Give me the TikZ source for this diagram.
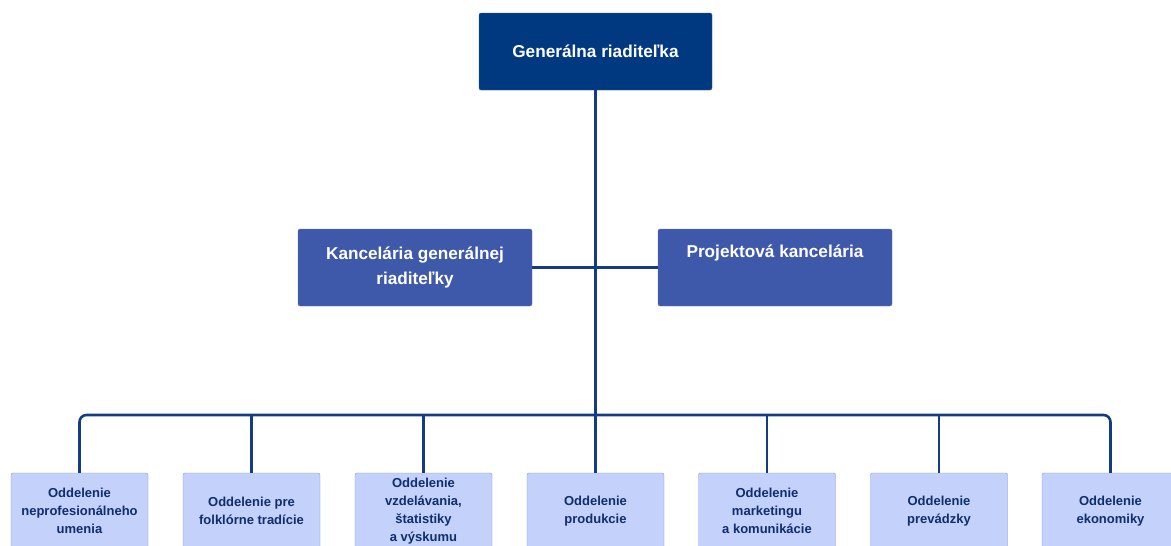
\documentclass[tikz,border=0pt]{standalone}
\usepackage{fontspec}
\setmainfont{Liberation Sans}
\definecolor{headblue}{HTML}{003980}
\definecolor{officeblue}{HTML}{3F59AA}
\definecolor{deptfill}{HTML}{C3D1FB}
\definecolor{deptline}{HTML}{7F97D4}
\definecolor{depttext}{HTML}{0E2E6E}
\definecolor{linkblue}{HTML}{143C82}

\begin{document}
\begin{tikzpicture}[x=1pt,y=-1pt,
        nodes={draw, rectangle, rounded corners=2pt, align=center},
        head/.style={fill=headblue, draw=headblue!80!white, text=white,
            minimum width=233pt, minimum height=77pt,
            font=\bfseries\fontsize{17.2}{20}\selectfont},
        office/.style={fill=officeblue, draw=officeblue!80!white, text=white,
            minimum width=234pt, minimum height=77pt,
            font=\bfseries\fontsize{17.2}{25}\selectfont},
        dept/.style={fill=deptfill, draw=deptline, text=depttext,
            minimum width=137pt, minimum height=76pt, inner sep=1pt,
            font=\bfseries\fontsize{13}{18}\selectfont},
        link/.style={draw=linkblue, line width=2.6pt}]
            \clip (0,0) rectangle (1171,546);
            \useasboundingbox (0,0) rectangle (1171,546);

            \node[head] (gr) at (595.5,51.5) {Generálna riaditeľka};

            \node[office] (kgr) at (415,267.5) {Kancelária generálnej\\riaditeľky};
            \node[office] (pk) at (775,267.5) {Projektová kancelária\\ \strut};

            \node[dept] (d1) at (79.5,511) {Oddelenie\\neprofesionálneho\\umenia};
            \node[dept] (d2) at (251.5,511) {Oddelenie pre\\folklórne tradície};
            \node[dept] (d3) at (423.5,511) {Oddelenie\\vzdelávania,\\štatistiky\\a výskumu};
            \node[dept] (d4) at (595.5,511) {Oddelenie\\produkcie};
            \node[dept] (d5) at (767,511) {Oddelenie\\marketingu\\a komunikácie};
            \node[dept] (d6) at (939,511) {Oddelenie\\prevádzky};
            \node[dept] (d7) at (1110.5,511) {Oddelenie\\ekonomiky};

            \coordinate (bus) at (595.5,415);

            % spojenia
            \draw[link] (kgr.east) -- (pk.west);
            \draw[link] (gr.south) -- (bus);
            \draw[link, rounded corners=7pt] (d1.north) |- (bus) -| (d7.north);
            \draw[link] (bus) -- (d4.north);
            \draw[link] (d2.north) -- (d2.north |- bus);
            \draw[link] (d3.north) -- (d3.north |- bus);
            \draw[link] (d5.north) -- (d5.north |- bus);
            \draw[link] (d6.north) -- (d6.north |- bus);
        \end{tikzpicture}
\end{document}
